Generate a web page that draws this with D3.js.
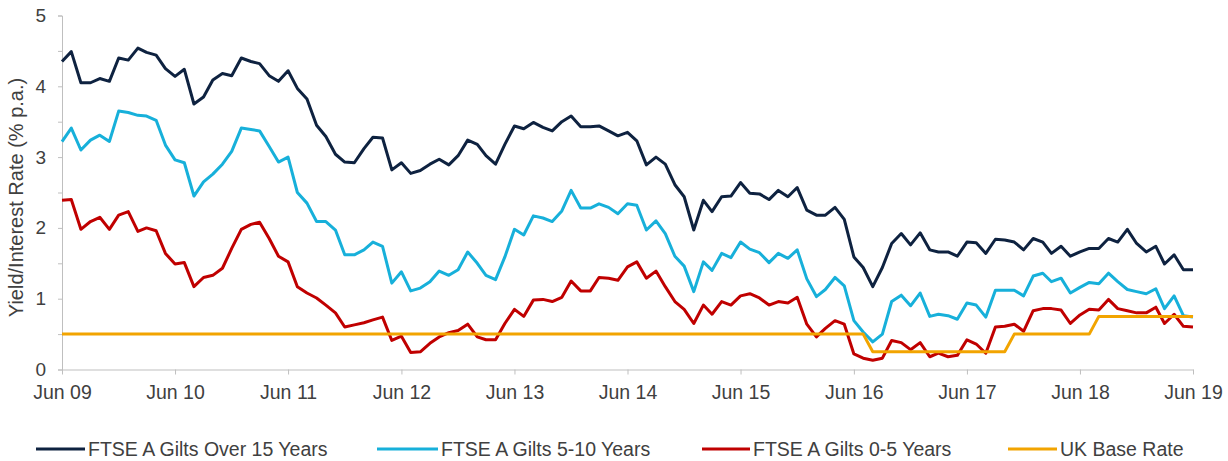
<!DOCTYPE html>
<html>
<head>
<meta charset="utf-8">
<script src="https://cdn.jsdelivr.net/npm/d3@7"></script>
<style>
  body { margin: 0; background: #fff; }
  #content { width: 1228px; height: 461px; }
  text { font-family: "Liberation Sans", Arial, sans-serif; fill: #404040; }
</style>
</head>
<body>
<div id="content"></div>
<script>
// monthly yields, Jun 09 .. Jun 19
var over15 = [
  4.35,4.49,4.05,4.05,4.11,4.07,4.40,4.37,4.54,4.48,4.44,4.25,
  4.14,4.24,3.75,3.85,4.09,4.18,4.15,4.40,4.35,4.32,4.15,4.07,
  4.22,3.97,3.82,3.45,3.29,3.04,2.93,2.92,3.12,3.28,3.27,2.82,
  2.92,2.77,2.81,2.90,2.97,2.89,3.02,3.24,3.18,3.02,2.90,3.18,
  3.44,3.40,3.49,3.42,3.37,3.50,3.58,3.43,3.43,3.44,3.37,3.30,
  3.35,3.23,2.89,3.00,2.90,2.61,2.44,1.97,2.39,2.23,2.44,2.45,
  2.64,2.49,2.48,2.40,2.53,2.44,2.57,2.25,2.18,2.18,2.29,2.12,
  1.59,1.44,1.17,1.44,1.78,1.92,1.76,1.93,1.69,1.66,1.66,1.60,
  1.80,1.79,1.64,1.84,1.83,1.80,1.69,1.85,1.80,1.64,1.74,1.60,
  1.66,1.71,1.71,1.85,1.80,1.98,1.78,1.66,1.74,1.49,1.62,1.41,1.41
];
var fiveTen = [
  3.22,3.41,3.10,3.24,3.31,3.22,3.65,3.63,3.59,3.58,3.52,3.17,
  2.96,2.92,2.45,2.65,2.76,2.90,3.08,3.41,3.39,3.37,3.15,2.93,
  3.00,2.50,2.35,2.09,2.09,1.97,1.62,1.62,1.69,1.80,1.74,1.22,
  1.38,1.11,1.15,1.24,1.39,1.33,1.41,1.66,1.50,1.33,1.27,1.59,
  1.98,1.90,2.17,2.14,2.09,2.24,2.53,2.28,2.28,2.34,2.29,2.20,
  2.34,2.32,1.97,2.10,1.92,1.60,1.46,1.10,1.52,1.40,1.64,1.58,
  1.80,1.70,1.65,1.51,1.64,1.57,1.69,1.28,1.03,1.13,1.30,1.18,
  0.69,0.53,0.39,0.50,0.96,1.05,0.90,1.08,0.75,0.78,0.76,0.71,
  0.94,0.91,0.74,1.12,1.12,1.12,1.04,1.32,1.36,1.24,1.29,1.08,
  1.16,1.23,1.21,1.36,1.24,1.13,1.10,1.07,1.14,0.86,1.04,0.76,0.74
];
var zeroFive = [
  2.39,2.40,1.98,2.09,2.15,1.98,2.18,2.23,1.95,2.00,1.96,1.64,
  1.49,1.51,1.17,1.30,1.33,1.43,1.71,1.98,2.05,2.08,1.85,1.60,
  1.52,1.17,1.08,1.01,0.91,0.80,0.60,0.63,0.66,0.70,0.74,0.41,
  0.47,0.24,0.25,0.37,0.46,0.52,0.55,0.64,0.46,0.42,0.42,0.65,
  0.85,0.75,0.98,0.99,0.96,1.02,1.25,1.11,1.11,1.30,1.29,1.26,
  1.45,1.52,1.29,1.39,1.17,0.96,0.85,0.65,0.91,0.78,0.96,0.91,
  1.04,1.07,1.01,0.91,0.96,0.94,1.02,0.64,0.46,0.58,0.69,0.64,
  0.22,0.16,0.13,0.16,0.41,0.38,0.28,0.38,0.18,0.23,0.18,0.20,
  0.42,0.36,0.23,0.60,0.61,0.64,0.54,0.83,0.86,0.86,0.84,0.65,
  0.77,0.85,0.84,0.99,0.86,0.83,0.80,0.80,0.88,0.65,0.78,0.61,0.60
];
var baseRate = [
  0.5,0.5,0.5,0.5,0.5,0.5,0.5,0.5,0.5,0.5,0.5,0.5,
  0.5,0.5,0.5,0.5,0.5,0.5,0.5,0.5,0.5,0.5,0.5,0.5,
  0.5,0.5,0.5,0.5,0.5,0.5,0.5,0.5,0.5,0.5,0.5,0.5,
  0.5,0.5,0.5,0.5,0.5,0.5,0.5,0.5,0.5,0.5,0.5,0.5,
  0.5,0.5,0.5,0.5,0.5,0.5,0.5,0.5,0.5,0.5,0.5,0.5,
  0.5,0.5,0.5,0.5,0.5,0.5,0.5,0.5,0.5,0.5,0.5,0.5,
  0.5,0.5,0.5,0.5,0.5,0.5,0.5,0.5,0.5,0.5,0.5,0.5,
  0.5,0.5,0.25,0.25,0.25,0.25,0.25,0.25,0.25,0.25,0.25,0.25,
  0.25,0.25,0.25,0.25,0.25,0.5,0.5,0.5,0.5,0.5,0.5,0.5,
  0.5,0.5,0.75,0.75,0.75,0.75,0.75,0.75,0.75,0.75,0.75,0.75,0.75
];
var seriesNames = ["FTSE A Gilts Over 15 Years", "FTSE A Gilts 5-10 Years", "FTSE A Gilts 0-5 Years", "UK Base Rate"];
var seriesColors = ["#0e2240", "#17b0da", "#c00000", "#f2a400"];
var tickLabels = ["Jun 09","Jun 10","Jun 11","Jun 12","Jun 13","Jun 14","Jun 15","Jun 16","Jun 17","Jun 18","Jun 19"];
var yLabel = "Yield/Interest Rate (% p.a.)";

(function(d3) {
    var width = 1228, height = 461;
    var margin = {top: 15.5, right: 35, bottom: 91.5, left: 62};

    var svg = d3.select("#content").append("svg")
        .attr("width", width).attr("height", height);

    var start = new Date(2009, 5, 1), end = new Date(2019, 5, 1);
    var months = d3.timeMonth.range(start, d3.timeMonth.offset(end, 1));
    var yearTicks = tickLabels.map(function(d, i) { return new Date(2009 + i, 5, 1); });

    var x = d3.scaleTime()
        .domain([start, end])
        .range([margin.left, width - margin.right]);
    var y = d3.scaleLinear()
        .domain([0, 5])
        .range([height - margin.bottom, margin.top]);

    // y axis with half-step minor ticks
    var yAxis = svg.append("g")
        .attr("transform", "translate(" + margin.left + ",0)")
        .call(d3.axisLeft(y)
            .tickValues(d3.range(0, 5.01, 0.5))
            .tickSize(4).tickPadding(12)
            .tickFormat(function(d) { return d % 1 == 0 ? d : ""; }));
    yAxis.selectAll("path, line").attr("stroke", "#bfbfbf");
    yAxis.selectAll("text").attr("font-size", 19).attr("fill", "#404040")
        .style("font-family", "'Liberation Sans', Arial, sans-serif");

    var xAxis = svg.append("g")
        .attr("transform", "translate(0," + y(0) + ")")
        .call(d3.axisBottom(x)
            .tickValues(yearTicks)
            .tickSize(5).tickPadding(11).tickSizeOuter(0)
            .tickFormat(function(d, i) { return tickLabels[i]; }));
    xAxis.selectAll("path, line").attr("stroke", "#bfbfbf");
    xAxis.selectAll("text").attr("font-size", 19.5).attr("fill", "#404040")
        .style("font-family", "'Liberation Sans', Arial, sans-serif");

    svg.append("text")
        .attr("transform", "translate(22.5," + (y(0) + y(5) + 10) / 2 + ") rotate(-90)")
        .attr("text-anchor", "middle")
        .attr("font-size", 20)
        .text(yLabel);

    var line = d3.line()
        .x(function(d, i) { return x(months[i]); })
        .y(function(d) { return y(d); });

    [over15, fiveTen, zeroFive, baseRate].forEach(function(values, k) {
        svg.append("path")
            .datum(values)
            .attr("fill", "none")
            .attr("stroke", seriesColors[k])
            .attr("stroke-width", 3)
            .attr("stroke-linejoin", "round")
            .attr("d", line);
    });

    // legend
    var legendX = [36, 377, 702, 1008];
    var legendLen = [49, 61, 48, 49];
    var legend = svg.append("g").attr("transform", "translate(0,449)");
    seriesNames.forEach(function(name, k) {
        legend.append("line")
            .attr("x1", legendX[k]).attr("x2", legendX[k] + legendLen[k])
            .attr("y1", 0).attr("y2", 0)
            .attr("stroke", seriesColors[k]).attr("stroke-width", 3);
        legend.append("text")
            .attr("x", legendX[k] + legendLen[k] + 3)
            .attr("y", 0)
            .attr("dy", "0.36em")
            .attr("font-size", 19.5)
            .text(name);
    });
})(d3);
</script>
</body>
</html>
